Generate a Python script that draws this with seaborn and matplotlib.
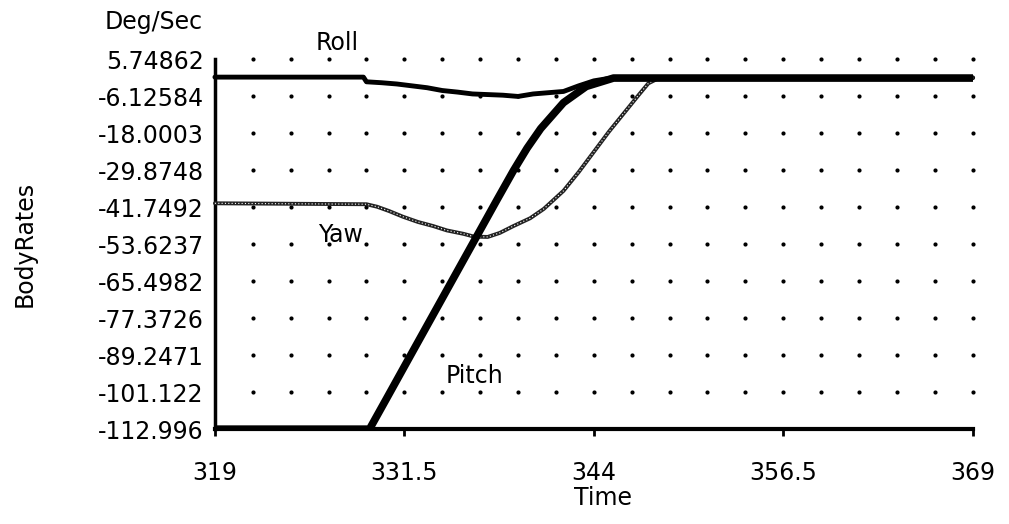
import numpy as np
import pandas as pd
import seaborn as sns
import matplotlib.pyplot as plt

# series (time, deg/sec)
roll_t = [319, 328.8, 329.0, 330, 331, 332, 333, 334, 335, 336, 337, 338, 339, 340, 341, 342, 343, 344, 345, 346, 369]
roll = [0, 0, -1.5, -1.8, -2.2, -2.8, -3.4, -4.3, -4.8, -5.4, -5.6, -5.8, -6.2, -5.4, -5.0, -4.6, -2.8, -1.2, -0.4, -0.2, -0.2]

yaw_t = [319, 329.0, 329.7, 330.5, 331.4, 332.4, 333.4, 334.3, 335.4, 336.1, 337.0, 337.8, 338.7, 339.8, 340.7,
         342.0, 343.0, 344.0, 345.0, 346.0, 347.0, 347.6, 348.3, 369]
yaw = [-40.5, -40.8, -41.6, -43.0, -44.8, -46.5, -47.8, -49.2, -50.3, -51.2, -51.3, -50.0, -47.8, -45.3, -42.3,
       -36.5, -30.5, -24.0, -17.5, -11.5, -5.5, -2.0, -0.3, -0.3]

pitch_t = [319, 329.2, 330.3, 332.0, 333.6, 334.8, 336.0, 337.6, 338.7, 339.6, 340.5, 342.0, 343.5, 345.3, 369]
pitch = [-112.996, -112.996, -103.4, -88.5, -74.5, -64.0, -53.5, -39.5, -30.0, -22.8, -16.5, -8.2, -3.0, -0.3, -0.3]

x_ticks = [319, 331.5, 344, 356.5, 369]
x_labels = ["319", "331.5", "344", "356.5", "369"]
y_ticks = [5.74862, -6.12584, -18.0003, -29.8748, -41.7492, -53.6237, -65.4982, -77.3726, -89.2471, -101.122, -112.996]
y_labels = ["5.74862", "-6.12584", "-18.0003", "-29.8748", "-41.7492", "-53.6237", "-65.4982",
            "-77.3726", "-89.2471", "-101.122", "-112.996"]
dot_step = 2.5

sns.set_style("white")
plt.rcParams["font.family"] = ["DejaVu Sans"]
plt.rcParams["text.color"] = "black"
plt.rcParams["xtick.color"] = "black"
plt.rcParams["ytick.color"] = "black"
fs = 17

fig = plt.figure(figsize=(10.09, 5.24), dpi=100)
ax = fig.add_axes([0.213, 0.181, 0.751, 0.706])

# dotted grid (bottom row sits under the axis line)
gx, gy = np.meshgrid(np.arange(x_ticks[0] + dot_step, x_ticks[-1] + 0.1, dot_step), y_ticks[:-1])
ax.scatter(gx.ravel(), gy.ravel(), s=9, color="black", linewidths=0, clip_on=False, zorder=1)

sns.lineplot(x=roll_t, y=roll, color="black", lw=3.5, estimator=None, ax=ax, clip_on=False, zorder=3)
sns.lineplot(x=yaw_t, y=yaw, color="#222222", lw=2.8, estimator=None, ax=ax, clip_on=False, zorder=3)
ax.plot(yaw_t, yaw, color="white", lw=0.8, ls=(0, (1, 2)), clip_on=False, zorder=3)
sns.lineplot(x=pitch_t, y=pitch, color="black", lw=5.5, estimator=None, ax=ax, zorder=4)

ax.set_xlim(x_ticks[0], x_ticks[-1])
ax.set_ylim(y_ticks[-1], y_ticks[0])
ax.set_xticks(x_ticks)
ax.set_xticklabels(x_labels)
ax.set_yticks(y_ticks)
ax.set_yticklabels(y_labels)
ax.tick_params(axis="x", bottom=True, length=5, width=2, pad=18, labelsize=fs, color="black")
ax.tick_params(axis="y", left=False, length=0, pad=8, labelsize=fs)
ax.set_xlabel("")
ax.set_ylabel("")

for s in ["top", "right"]:
    ax.spines[s].set_visible(False)
ax.spines["left"].set_linewidth(2.5)
ax.spines["bottom"].set_linewidth(3)
ax.spines["left"].set_color("black")
ax.spines["bottom"].set_color("black")
ax.spines["bottom"].set_zorder(5)

ax.text(327.1, 10.9, "Roll", ha="center", va="center", fontsize=fs, clip_on=False)
ax.text(327.3, -50.7, "Yaw", ha="center", va="center", fontsize=fs, zorder=0)
ax.text(336.1, -96, "Pitch", ha="center", va="center", fontsize=fs, zorder=0)

fig.text(203 / 1009, 1 - 22 / 524, "Deg/Sec", ha="right", va="center", fontsize=fs)
fig.text(25 / 1009, 0.534, "BodyRates", rotation=90, ha="center", va="center", fontsize=fs)
fig.text(603 / 1009, 1 - 498 / 524, "Time", ha="center", va="center", fontsize=fs)

fig.savefig("out.png", dpi=100)
